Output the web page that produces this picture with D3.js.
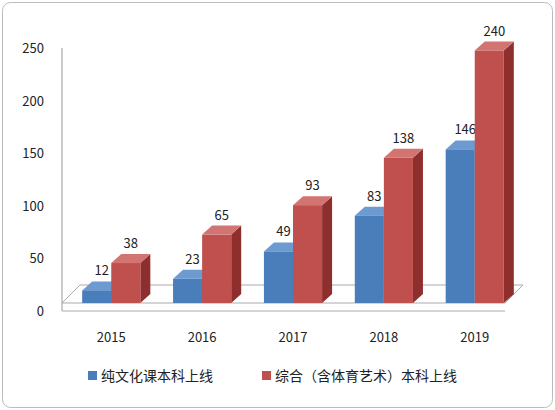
<!DOCTYPE html>
<html><head><meta charset="utf-8">
<script src="https://d3js.org/d3.v7.min.js"></script>
<style>body{margin:0;background:#fff}text{font-family:"Noto Sans CJK SC","Noto Sans",sans-serif}</style>
</head><body>
<script>
var years = ['2015','2016','2017','2018','2019'];
var pure = [12, 23, 49, 83, 146];
var mixed = [38, 65, 93, 138, 240];
var yTicks = [0, 50, 100, 150, 200, 250];
var seriesNames = ['纯文化课本科上线', '综合（含体育艺术）本科上线'];

var W = 555, H = 410, dx = 10, dy = -9;
var svg = d3.select('body').append('svg').attr('width', W).attr('height', H);
svg.append('rect').attr('x', 2.5).attr('y', 2.5).attr('width', W - 5).attr('height', H - 5)
  .attr('rx', 8).attr('fill', '#fff').attr('stroke', '#bbb');

var x = d3.scaleBand().domain(years).range([64, 522]).paddingInner(0.36).paddingOuter(0.2);
var y = d3.scaleLinear().domain([0, 250]).range([311, 48]);
var base = 303;

// floor
var fx0 = 62, fx1 = 505;
svg.append('path').attr('d', 'M' + fx0 + ',' + base + 'L' + fx1 + ',' + base + 'L' + (fx1 + 18) + ',' + (base - 18) + 'L' + (fx0 + 18) + ',' + (base - 18) + 'Z')
  .attr('fill', '#fff').attr('stroke', '#aaa');
svg.append('line').attr('x1', fx0).attr('x2', fx0).attr('y1', 48).attr('y2', base + 8).attr('stroke', '#999');
svg.append('line').attr('x1', fx0).attr('x2', fx1).attr('y1', base + 8).attr('y2', base + 8).attr('stroke', '#aaa');

svg.selectAll('.yt').data(yTicks).enter().append('text')
  .attr('x', 44).attr('y', function(d){ return y(d) + 5; }).attr('text-anchor', 'end')
  .attr('font-size', 13).attr('fill', '#222').text(function(d){ return d; });

svg.selectAll('.xt').data(years).enter().append('text')
  .attr('x', function(d){ return x(d) + x.bandwidth() / 2; }).attr('y', 342)
  .attr('text-anchor', 'middle').attr('font-size', 13).attr('fill', '#222').text(function(d){ return d; });

var bw = x.bandwidth() / 2;
var cols = [['#4a7ebb', '#6d9ad1', '#2f5b8f'], ['#c0504d', '#d27472', '#8e2f2d']];
function bar(x0, v, c, label) {
  var top = y(v) - (311 - base);
  var g = svg.append('g');
  g.append('path').attr('d', 'M' + (x0 + bw) + ',' + base + 'l' + dx + ',' + dy + 'V' + (top + dy) + 'l' + (-dx) + ',' + (-dy) + 'Z').attr('fill', c[2]);
  g.append('path').attr('d', 'M' + x0 + ',' + top + 'l' + dx + ',' + dy + 'h' + bw + 'l' + (-dx) + ',' + (-dy) + 'Z').attr('fill', c[1]);
  g.append('rect').attr('x', x0).attr('y', top).attr('width', bw).attr('height', base - top).attr('fill', c[0]);
  g.append('text').attr('x', x0 + bw / 2 + 5).attr('y', top + dy - 6).attr('text-anchor', 'middle')
    .attr('font-size', 13).attr('fill', '#222').text(label);
}
years.forEach(function(yr, i){
  bar(x(yr), pure[i], cols[0], pure[i]);
  bar(x(yr) + bw, mixed[i], cols[1], mixed[i]);
});

var lx = [88, 262];
seriesNames.forEach(function(n, i){
  svg.append('rect').attr('x', lx[i]).attr('y', 371).attr('width', 9).attr('height', 9).attr('fill', cols[i][0]);
  svg.append('text').attr('x', lx[i] + 13).attr('y', 381).attr('font-size', 14).attr('fill', '#222').text(n);
});
</script>
</body></html>
